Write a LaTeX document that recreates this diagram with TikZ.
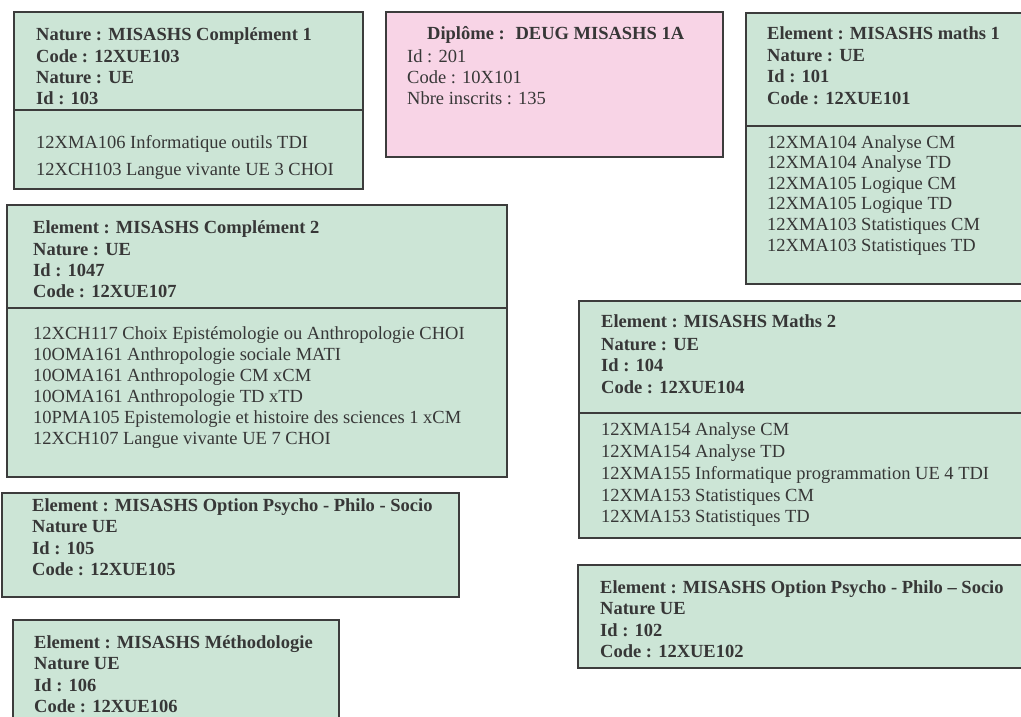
\documentclass[tikz,border=0pt]{standalone}
\usepackage{fontspec}
\setmainfont{Liberation Serif}
\definecolor{boxgreen}{RGB}{204,229,214}
\definecolor{boxpink}{RGB}{248,212,230}
\definecolor{edgegray}{RGB}{60,60,60}
\definecolor{ink}{RGB}{55,55,55}
\begin{document}
\begin{tikzpicture}[x=1pt,y=-1pt,
  card/.style={draw=edgegray,line width=2pt,fill=boxgreen},
  pcard/.style={draw=edgegray,line width=2pt,fill=boxpink},
  sep/.style={draw=edgegray,line width=2pt},
  txt/.style={anchor=base west,inner sep=0pt,text=ink,font=\fontsize{18.5}{22}\selectfont},
  hd/.style={anchor=base west,inner sep=0pt,text=ink,font=\fontsize{18.5}{22}\selectfont\bfseries}]
\useasboundingbox (0,0) rectangle (1021,717);
\clip (0,0) rectangle (1021,717);
\fill[white] (0,0) rectangle (1021,717);

% Box 1 : Complement 1
\draw[card] (14,12) rectangle (363,189);
\draw[sep] (14,110) -- (363,110);
\node[hd] (c1a) at (36,41) {Nature : MISASHS Complément 1};
\node[hd] (c1b) at (36,63) {Code : 12XUE103};
\node[hd] (c1c) at (36,84) {Nature : UE};
\node[hd] (c1d) at (36,104) {Id : 103};
\node[txt] (c1e) at (36,148) {12XMA106 Informatique outils TDI};
\node[txt] (c1f) at (36,175) {12XCH103 Langue vivante UE 3 CHOI};

% Diplome
\draw[pcard] (386,12) rectangle (723,157);
\node[hd] (d1) at (427,40) {Diplôme : \ DEUG MISASHS 1A};
\node[txt] (d2) at (407,63) {Id : 201};
\node[txt] (d3) at (407,84) {Code : 10X101};
\node[txt] (d4) at (407,104) {Nbre inscrits : 135};

% Maths 1
\draw[card] (746,13) rectangle (1035,284);
\draw[sep] (746,126) -- (1035,126);
\node[hd] (m1a) at (767,40) {Element : MISASHS maths 1};
\node[hd] (m1b) at (767,62) {Nature : UE};
\node[hd] (m1c) at (767,83) {Id : 101};
\node[hd] (m1d) at (767,104) {Code : 12XUE101};
\node[txt] (m1e) at (767,148) {12XMA104 Analyse CM};
\node[txt] (m1f) at (767,168) {12XMA104 Analyse TD};
\node[txt] (m1g) at (767,189) {12XMA105 Logique CM};
\node[txt] (m1h) at (767,209) {12XMA105 Logique TD};
\node[txt] (m1i) at (767,230) {12XMA103 Statistiques CM};
\node[txt] (m1j) at (767,251) {12XMA103 Statistiques TD};

% Complement 2
\draw[card] (7,205) rectangle (507,477);
\draw[sep] (7,308) -- (507,308);
\node[hd] (c2a) at (33,233) {Element : MISASHS Complément 2};
\node[hd] (c2b) at (33,255) {Nature : UE};
\node[hd] (c2c) at (33,276) {Id : 1047};
\node[hd] (c2d) at (33,297) {Code : 12XUE107};
\node[txt] (c2e) at (33,339) {12XCH117 Choix Epistémologie ou Anthropologie CHOI};
\node[txt] (c2f) at (33,360) {10OMA161 Anthropologie sociale MATI};
\node[txt] (c2g) at (33,381) {10OMA161 Anthropologie CM xCM};
\node[txt] (c2h) at (33,402) {10OMA161 Anthropologie TD xTD};
\node[txt] (c2i) at (33,423) {10PMA105 Epistemologie et histoire des sciences 1 xCM};
\node[txt] (c2j) at (33,444) {12XCH107 Langue vivante UE 7 CHOI};

% Maths 2
\draw[card] (579,301) rectangle (1035,538);
\draw[sep] (579,413) -- (1035,413);
\node[hd] (m2a) at (601,327) {Element : MISASHS Maths 2};
\node[hd] (m2b) at (601,350) {Nature : UE};
\node[hd] (m2c) at (601,371) {Id : 104};
\node[hd] (m2d) at (601,393) {Code : 12XUE104};
\node[txt] (m2e) at (601,435) {12XMA154 Analyse CM};
\node[txt] (m2f) at (601,457) {12XMA154 Analyse TD};
\node[txt] (m2g) at (601,479) {12XMA155 Informatique programmation UE 4 TDI};
\node[txt] (m2h) at (601,501) {12XMA153 Statistiques CM};
\node[txt] (m2i) at (601,522) {12XMA153 Statistiques TD};

% Option 105
\draw[card] (2,493) rectangle (459,597);
\node[hd] (o5a) at (32,511) {Element : MISASHS Option Psycho - Philo - Socio};
\node[hd] (o5b) at (32,532) {Nature UE};
\node[hd] (o5c) at (32,554) {Id : 105};
\node[hd] (o5d) at (32,575) {Code : 12XUE105};

% Methodologie
\draw[card] (13,620) rectangle (339,740);
\node[hd] (m6a) at (34,648) {Element : MISASHS Méthodologie};
\node[hd] (m6b) at (34,669) {Nature UE};
\node[hd] (m6c) at (34,691) {Id : 106};
\node[hd] (m6d) at (34,712) {Code : 12XUE106};

% Option 102
\draw[card] (578,565) rectangle (1035,668);
\node[hd] (o2a) at (600,593) {Element : MISASHS Option Psycho - Philo – Socio};
\node[hd] (o2b) at (600,614) {Nature UE};
\node[hd] (o2c) at (600,636) {Id : 102};
\node[hd] (o2d) at (600,657) {Code : 12XUE102};
\end{tikzpicture}
\end{document}
